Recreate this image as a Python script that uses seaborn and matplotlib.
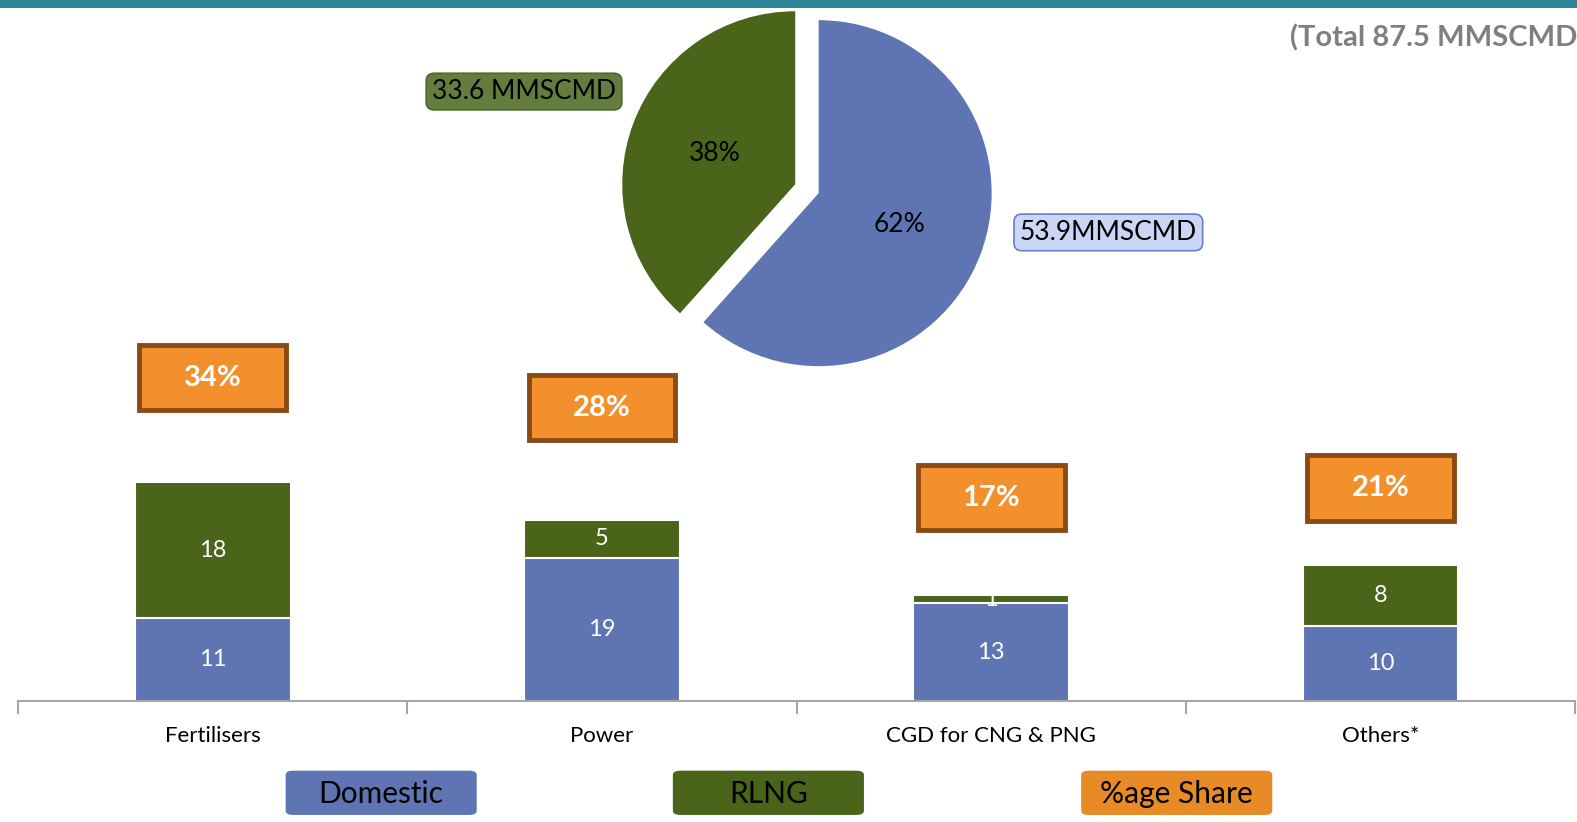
import matplotlib
matplotlib.use("Agg")
import matplotlib.pyplot as plt
from matplotlib.patches import Rectangle, FancyBboxPatch
import seaborn as sns

# Sector-wise gas consumption (MMSCMD)
categories = ["Fertilisers", "Power", "CGD for CNG & PNG", "Others*"]
domestic = [11, 19, 13, 10]
rlng = [18, 5, 1, 8]
share_pct = [34, 28, 17, 21]

# Overall supply split (MMSCMD)
pie_labels = ["Domestic", "RLNG"]
pie_values = [53.9, 33.6]
total_supply = 87.5

legend_items = ["Domestic", "RLNG", "%age Share"]

BLUE = "#5F75B3"
GREEN = "#4A6419"
ORANGE = "#F3902E"
ORANGE_EDGE = "#8A4A14"
LEGEND_ORANGE = "#E88A25"
TEAL = "#2F8599"
GREY = "#A6A6A6"

sns.set_theme(style="white")
plt.rcParams["font.family"] = ["Lato", "DejaVu Sans"]

W, H = 1577, 822
# layout grid used for placing elements
GW, GH = 1568, 817
fig = plt.figure(figsize=(W / 100, H / 100), dpi=100)


def fx(px):
    return px / GW


def fy(py):
    return 1 - py / GH


# ---- stacked bars ----
ax = fig.add_axes([fx(18), fy(697), fx(1566 - 18), (697 - 246) / GH])
totals = [d + r for d, r in zip(domestic, rlng)]
sns.barplot(x=categories, y=totals, color=GREEN, saturation=1, width=0.4,
            edgecolor="white", linewidth=1.5, ax=ax)
sns.barplot(x=categories, y=domestic, color=BLUE, saturation=1, width=0.4,
            edgecolor="white", linewidth=1.5, ax=ax)
ax.set_ylim(0, 60)
ax.set_xlim(-0.5, 3.5)
ax.set_ylabel("")
ax.set_yticks([])
for s in ["left", "right", "top"]:
    ax.spines[s].set_visible(False)
ax.spines["bottom"].set_color(GREY)
ax.spines["bottom"].set_linewidth(1.5)
ax.set_xticks(range(len(categories)))
ax.set_xticklabels(categories, fontsize=16, color="black")
ax.tick_params(axis="x", which="major", length=0, pad=18)
ax.set_xticks([i - 0.5 for i in range(len(categories) + 1)], minor=True)
ax.tick_params(axis="x", which="minor", bottom=True, length=9, width=1.5,
               color=GREY, direction="out")

for i, (d, r) in enumerate(zip(domestic, rlng)):
    ax.text(i, d / 2, f"{d}", ha="center", va="center", color="white", fontsize=17)
    ax.text(i, d + r / 2, f"{r}", ha="center", va="center", color="white", fontsize=17)

# share boxes above each bar
share_gap = [13.8, 14.8, 12.9, 10.2]
box_w, box_h = 0.377, 8.6
for i, (t, p) in enumerate(zip(totals, share_pct)):
    yc = t + share_gap[i]
    ax.add_patch(Rectangle((i - box_w / 2, yc - box_h / 2), box_w, box_h,
                           facecolor=ORANGE, edgecolor=ORANGE_EDGE, linewidth=3.5,
                           clip_on=False, zorder=5))
    ax.text(i, yc, f"{p}%", ha="center", va="center", color="white",
            fontsize=21, fontweight="bold", zorder=6)

# ---- pie of total supply ----
r_px = 172
lim = 1.25
side = 2 * lim * r_px
cx, cy = 814, 192
ax_pie = fig.add_axes([fx(cx - side / 2), fy(cy + side / 2), side / GW, side / GH])
wedges, texts, autotexts = ax_pie.pie(
    pie_values, colors=[BLUE, GREEN], startangle=90, counterclock=False,
    explode=[0, 0.145], autopct="%.0f%%", pctdistance=0.5,
    wedgeprops=dict(linewidth=0))
for t in autotexts:
    t.set_fontsize(19)
    t.set_color("black")
ax_pie.set_xlim(-lim, lim)
ax_pie.set_ylim(-lim, lim)
ax_pie.set_aspect("equal")
ax_pie.axis("off")

fig.text(fx(521), fy(91), f"{pie_values[1]} MMSCMD", ha="center", va="center",
         fontsize=19, color="black",
         bbox=dict(boxstyle="round,pad=0.22,rounding_size=0.3",
                   facecolor="#627D3E", edgecolor="#4C6A28", linewidth=1.2))
fig.text(fx(1102), fy(231), f"{pie_values[0]}MMSCMD", ha="center", va="center",
         fontsize=19, color="black",
         bbox=dict(boxstyle="round,pad=0.22,rounding_size=0.3",
                   facecolor="#CBD5F6", edgecolor="#6A7EC0", linewidth=1.2))

# ---- header band and total ----
fig.add_artist(Rectangle((0, fy(8)), 1, 8 / GH, transform=fig.transFigure,
                         facecolor=TEAL, edgecolor="none"))
fig.text(fx(1283), fy(38), f"(Total {total_supply} MMSCMD)", ha="left",
         va="center", fontsize=21, fontweight="bold", color="#7F7F7F")

# ---- legend tiles ----
legend_colors = [BLUE, GREEN, LEGEND_ORANGE]
legend_left = [284, 669, 1075]
for name, col, lx in zip(legend_items, legend_colors, legend_left):
    fig.add_artist(FancyBboxPatch((fx(lx), fy(810)), fx(190), 44 / GH,
                                  boxstyle="round,pad=0,rounding_size=0.005",
                                  transform=fig.transFigure, facecolor=col,
                                  edgecolor="none"))
    fig.text(fx(lx + 95), fy(789), name, ha="center", va="center",
             fontsize=21.5, color="black")

fig.savefig("out.png", dpi=100, facecolor="white")
